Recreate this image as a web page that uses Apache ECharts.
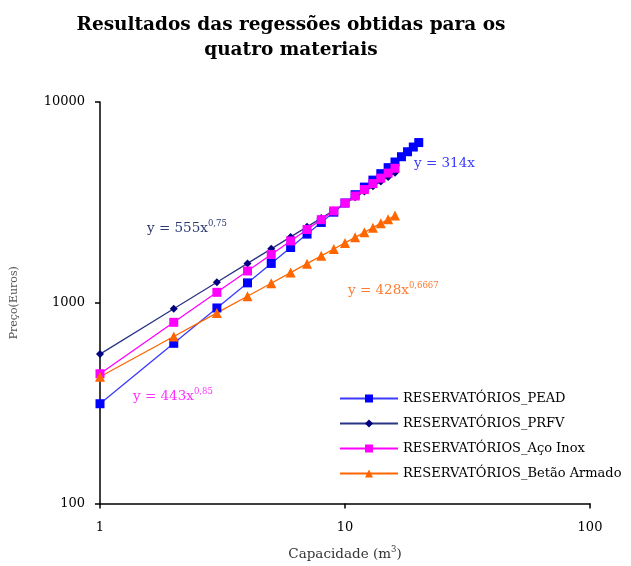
<!DOCTYPE html>
<html>
<head>
<meta charset="utf-8">
<script src="https://cdn.jsdelivr.net/npm/echarts@6/dist/echarts.min.js"></script>
<style>
html, body { margin: 0; padding: 0; background: #fff; }
#chart { width: 631px; height: 566px; }
</style>
</head>
<body>
<div id="chart"></div>
<script>
// capacidade (m3) e preço (euros)
var capPEAD = [1,2,3,4,5,6,7,8,9,10,11,12,13,14,15,16,17,18,19,20];
var precoPEAD = [314,628,942,1256,1570,1884,2198,2512,2826,3140,3454,3768,4082,4396,4710,5024,5338,5652,5966,6280];

var capOutros = [1,2,3,4,5,6,7,8,9,10,11,12,13,14,15,16];
var precoPRFV = [555,933,1265,1570,1856,2128,2388,2640,2884,3121,3352,3578,3800,4017,4230,4440];
var precoInox = [443,799,1127,1439,1740,2032,2316,2594,2868,3136,3401,3662,3920,4175,4427,4676];
var precoBetao = [428,679,890,1078,1251,1413,1566,1712,1852,1987,2117,2243,2366,2486,2603,2718];

var nomes = ['RESERVATÓRIOS_PEAD', 'RESERVATÓRIOS_PRFV', 'RESERVATÓRIOS_Aço Inox', 'RESERVATÓRIOS_Betão Armado'];

function pares(xs, ys) {
	var out = [];
	for (var i = 0; i < xs.length; i++) out.push([xs[i], ys[i]]);
	return out;
}

var serif = 'DejaVu Serif';
var myChart = echarts.init(document.getElementById('chart'));

function eq(txt, sup, color) {
	return {
		type: 'text',
		style: {
			text: '{a|' + txt + '}{b|' + sup + '}',
			rich: {
				a: { fontFamily: serif, fontSize: 13.5, fill: color, color: color },
				b: { fontFamily: serif, fontSize: 8.5, fill: color, color: color, verticalAlign: 'top', padding: [0, 0, 10, 0] }
			}
		}
	};
}

var option = {
	animation: false,
	title: {
		text: 'Resultados das regessões obtidas para os\nquatro materiais',
		left: 286,
		textAlign: 'center',
		top: 8,
		textStyle: {
			fontFamily: serif,
			fontSize: 18.5,
			fontWeight: 'bold',
			color: '#000',
			lineHeight: 25
		}
	},
	legend: {
		orient: 'vertical',
		left: 334,
		top: 387,
		itemWidth: 58,
		itemHeight: 10,
		itemGap: 12,
		data: nomes,
		textStyle: { fontFamily: serif, fontSize: 13, color: '#000' }
	},
	grid: { left: 100, right: 41, top: 102, bottom: 57 },
	xAxis: {
		type: 'log',
		logBase: 10,
		min: 1,
		max: 100,
		name: 'Capacidade (m{s|3})',
		nameLocation: 'middle',
		nameGap: 42,
		nameTextStyle: {
			fontFamily: serif, fontSize: 13.5, color: '#333',
			rich: { s: { fontFamily: serif, fontSize: 8.5, color: '#333', verticalAlign: 'top', padding: [0, 0, 8, 0] } }
		},
		axisLine: { lineStyle: { color: '#000', width: 1.5 } },
		axisTick: { lineStyle: { color: '#000', width: 1.5 }, length: 5 },
		minorTick: { show: false },
		splitLine: { show: false },
		axisLabel: { fontFamily: serif, fontSize: 13, color: '#000', margin: 18 }
	},
	yAxis: {
		type: 'log',
		logBase: 10,
		min: 100,
		max: 10000,
		name: 'Preço(Euros)',
		nameLocation: 'middle',
		nameGap: 80,
		nameTextStyle: { fontFamily: serif, fontSize: 11, color: '#555' },
		axisLine: { show: true, lineStyle: { color: '#000', width: 1.5 } },
		axisTick: { show: true, lineStyle: { color: '#000', width: 1.5 }, length: 5 },
		splitLine: { show: false },
		axisLabel: {
			fontFamily: serif, fontSize: 13, color: '#000', margin: 15,
			formatter: function (v) { return String(Math.round(v)); }
		}
	},
	series: [
		{
			name: nomes[0], type: 'line', data: pares(capPEAD, precoPEAD),
			symbol: 'rect', symbolSize: 9,
			itemStyle: { color: '#0000ff' },
			lineStyle: { color: '#3a3aff', width: 1.3 }
		},
		{
			name: nomes[1], type: 'line', data: pares(capOutros, precoPRFV),
			symbol: 'diamond', symbolSize: 8,
			itemStyle: { color: '#000080' },
			lineStyle: { color: '#2b3585', width: 1.3 }
		},
		{
			name: nomes[2], type: 'line', data: pares(capOutros, precoInox),
			symbol: 'rect', symbolSize: 9,
			itemStyle: { color: '#ff00ff' },
			lineStyle: { color: '#ff00ff', width: 1.3 }
		},
		{
			name: nomes[3], type: 'line', data: pares(capOutros, precoBetao),
			symbol: 'triangle', symbolSize: 10,
			itemStyle: { color: '#ff6600' },
			lineStyle: { color: '#ff6600', width: 1.3 }
		}
	],
	graphic: [
		Object.assign(eq('y = 555x', '0,75', '#2b3a6e'), { left: 147, top: 219 }),
		Object.assign(eq('y = 314x', '', '#3a3aff'), { left: 414, top: 154 }),
		Object.assign(eq('y = 428x', '0,6667', '#ff7a30'), { left: 348, top: 281 }),
		Object.assign(eq('y = 443x', '0,85', '#ff30ff'), { left: 133, top: 387 })
	]
};

myChart.setOption(option);
</script>
</body>
</html>
